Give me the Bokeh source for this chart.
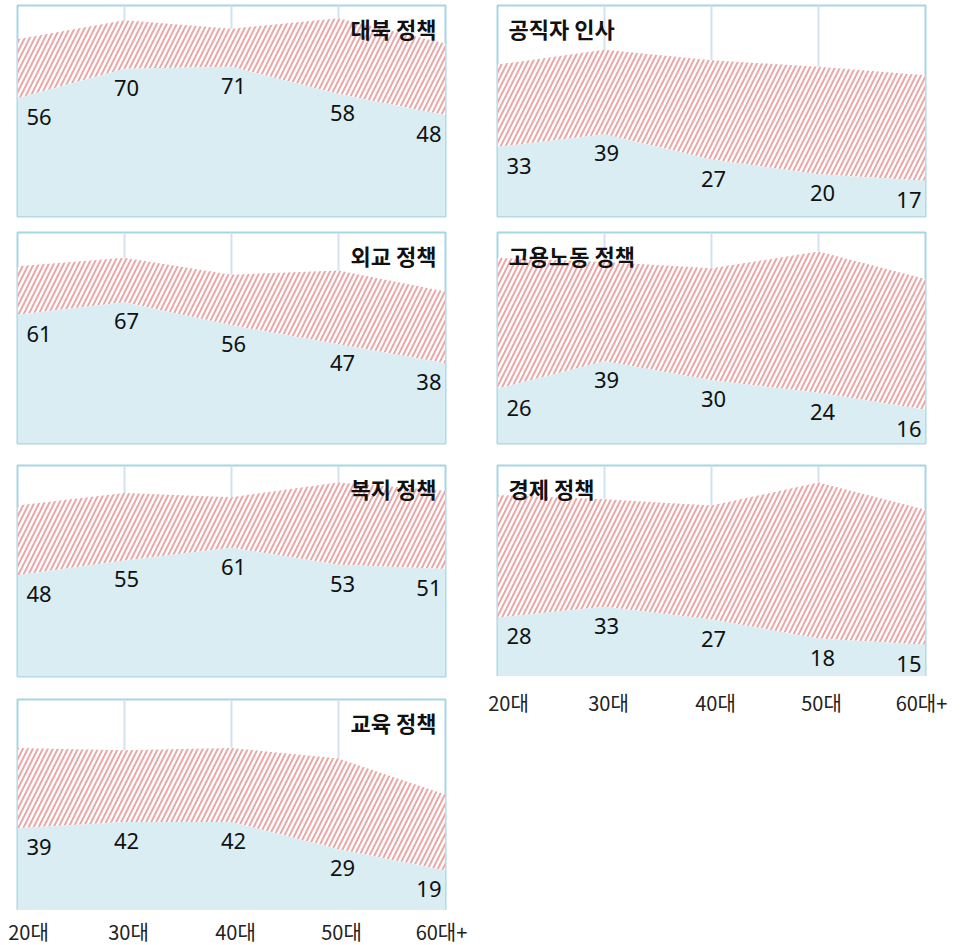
from bokeh.plotting import figure
from bokeh.models import ColumnDataSource, Range1d, FixedTicker, Grid
from bokeh.layouts import row, column
from bokeh.embed import file_html
from bokeh.resources import INLINE
from bokeh.core.properties import value

# ---- data ----
ages = ["20대", "30대", "40대", "50대", "60대+"]

north_title = "대북 정책"
north_pos = [56, 70, 71, 58, 48]
north_neg = [28, 23, 18, 36, 34]

appoint_title = "공직자 인사"
appoint_pos = [33, 39, 27, 20, 17]
appoint_neg = [39, 40, 47, 51, 50]

foreign_title = "외교 정책"
foreign_pos = [61, 67, 56, 47, 38]
foreign_neg = [23, 21, 24, 35, 34]

labor_title = "고용노동 정책"
labor_pos = [26, 39, 30, 24, 16]
labor_neg = [62, 47, 53, 67, 62]

welfare_title = "복지 정책"
welfare_pos = [48, 55, 61, 53, 51]
welfare_neg = [33, 32, 24, 39, 37]

economy_title = "경제 정책"
economy_pos = [28, 33, 27, 18, 15]
economy_neg = [58, 51, 54, 74, 64]

edu_title = "교육 정책"
edu_pos = [39, 42, 42, 29, 19]
edu_neg = [38, 34, 35, 43, 36]

# ---- style ----
FRAME_W = 428
FRAME_H = 211
BLUE = "#d9edf3"
OUTLINE = "#a6d5e4"
GRID = "#d3e2f1"
HATCH = "#eaa8a8"
LABEL_ALIGN = ["left", "center", "center", "center", "right"]
LABEL_XOFF = [9, 2, 2, 4, -4]
AXIS_XOFF = [11, 4, 4, 3, -4]


def panel(title, pos, neg, title_side, mb_l, mb_r, mb_t, mb_b):
    n = len(ages)
    xs = list(range(n))
    top = [a + b for a, b in zip(pos, neg)]
    src = ColumnDataSource(dict(
        x=xs, pos=pos, top=top, label=[str(v) for v in pos],
        align=LABEL_ALIGN, xoff=LABEL_XOFF,
    ))
    p = figure(width=mb_l + FRAME_W + mb_r, height=mb_t + FRAME_H + mb_b,
               x_range=Range1d(0, n - 1), y_range=Range1d(0, 100),
               x_axis_location=None, y_axis_location=None, title=None,
               output_backend="svg", toolbar_location=None,
               min_border_left=mb_l, min_border_right=mb_r,
               min_border_top=mb_t, min_border_bottom=mb_b)
    p.grid.visible = False
    p.background_fill_color = "white"
    p.border_fill_color = "white"
    p.outline_line_color = OUTLINE
    p.outline_line_width = 2
    p.add_layout(Grid(dimension=0, ticker=FixedTicker(ticks=xs[1:-1]),
                      grid_line_color=GRID, grid_line_width=2))
    p.varea(x="x", y1="pos", y2="top", source=src, fill_color="white",
            hatch_pattern="/", hatch_color=HATCH, hatch_weight=2, hatch_scale=10)
    p.varea(x="x", y1=0, y2="pos", source=src, fill_color=BLUE)
    p.text(x="x", y="pos", text="label", source=src, text_align="align",
           x_offset="xoff", y_offset=19, text_baseline="alphabetic",
           text_font=value("Noto Sans"), text_font_size="22px", text_color="#111111")
    if title_side == "right":
        tx, ta, to = p.x_range.end, "right", -9
    else:
        tx, ta, to = p.x_range.start, "left", 11
    p.text(x=[tx], y=[p.y_range.end], text=[title], text_align=ta, x_offset=to,
           y_offset=22, text_baseline="middle",
           text_font=value("Noto Sans CJK KR"), text_font_style="bold",
           text_font_size="22px", text_color="#111111")
    return p


def axis_strip(mb_l, mb_r, height, mid):
    n = len(ages)
    unit = FRAME_W / (n - 1)
    s = figure(width=mb_l + FRAME_W + mb_r, height=height,
               x_range=Range1d(-mb_l / unit, (n - 1) + mb_r / unit),
               y_range=Range1d(0, height),
               x_axis_location=None, y_axis_location=None, title=None,
               output_backend="svg", toolbar_location=None,
               min_border_left=0, min_border_right=0,
               min_border_top=0, min_border_bottom=0)
    s.frame_align = False
    s.outline_line_color = None
    s.grid.visible = False
    src = ColumnDataSource(dict(x=list(range(n)), y=[height - mid] * n,
                                text=ages, xoff=AXIS_XOFF))
    s.text(x="x", y="y", text="text", source=src, x_offset="xoff",
           text_align="center", text_baseline="middle",
           text_font=value("Noto Sans CJK KR"), text_font_size="20px",
           text_color="#222222")
    return s


L_ML, L_MR = 17, 35
R_ML, R_MR = 17, 45

p1 = panel(north_title, north_pos, north_neg, "right", L_ML, L_MR, 5, 8)
p3 = panel(foreign_title, foreign_pos, foreign_neg, "right", L_ML, L_MR, 8, 11)
p5 = panel(welfare_title, welfare_pos, welfare_neg, "right", L_ML, L_MR, 11, 11)
p7 = panel(edu_title, edu_pos, edu_neg, "right", L_ML, L_MR, 12, 0)
sl = axis_strip(L_ML, L_MR, 35, 21)

p2 = panel(appoint_title, appoint_pos, appoint_neg, "left", R_ML, R_MR, 5, 8)
p4 = panel(labor_title, labor_pos, labor_neg, "left", R_ML, R_MR, 8, 11)
p6 = panel(economy_title, economy_pos, economy_neg, "left", R_ML, R_MR, 11, 0)
sr = axis_strip(R_ML, R_MR, 42, 26)

layout = row(column(p1, p3, p5, p7, sl, spacing=0),
             column(p2, p4, p6, sr, spacing=0), spacing=0)

with open("out.html", "w") as f:
    f.write(file_html(layout, INLINE))
